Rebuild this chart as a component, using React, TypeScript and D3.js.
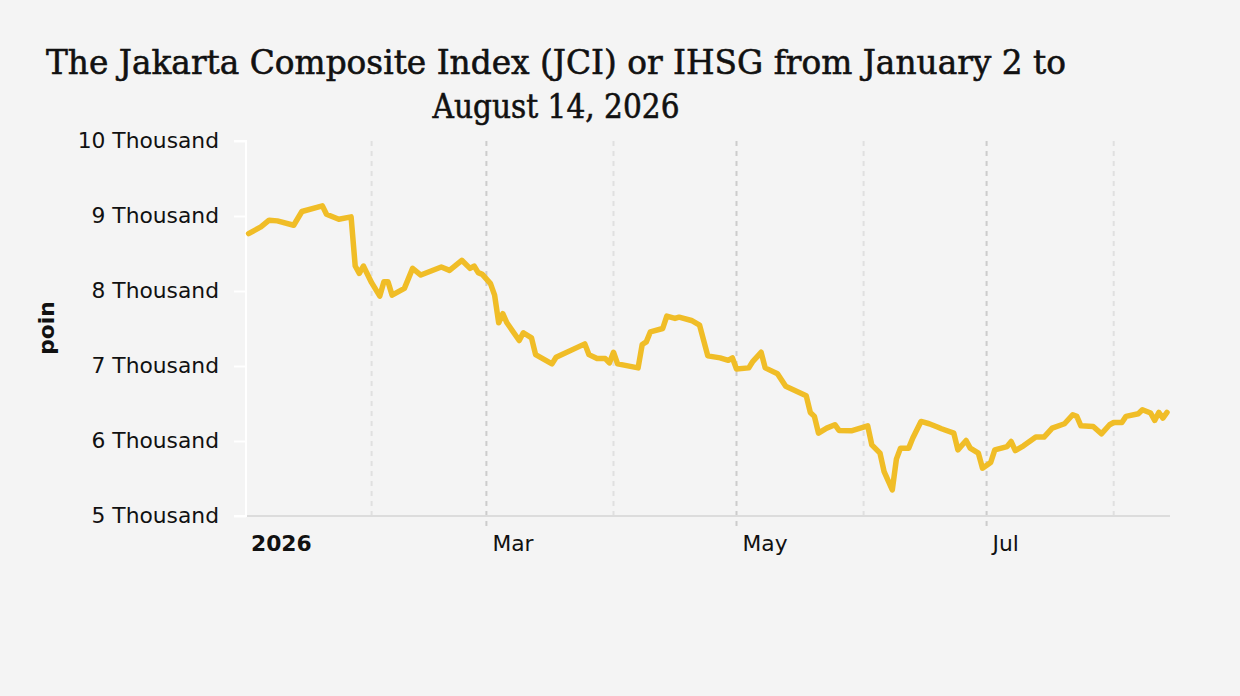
import { useEffect, useRef } from "react"
import * as d3 from "d3"

// trading dates
const dates = [
  "2026-01-02", "2026-01-05", "2026-01-07", "2026-01-09", "2026-01-13", "2026-01-15",
  "2026-01-20", "2026-01-21", "2026-01-24", "2026-01-27", "2026-01-28", "2026-01-29",
  "2026-01-30", "2026-02-01", "2026-02-03", "2026-02-04", "2026-02-05", "2026-02-06",
  "2026-02-09", "2026-02-11", "2026-02-13", "2026-02-18", "2026-02-20", "2026-02-23",
  "2026-02-25", "2026-02-26", "2026-02-27", "2026-02-28", "2026-03-02", "2026-03-03",
  "2026-03-04", "2026-03-05", "2026-03-06", "2026-03-09", "2026-03-10", "2026-03-12",
  "2026-03-13", "2026-03-17", "2026-03-18", "2026-03-25", "2026-03-26", "2026-03-28",
  "2026-03-30", "2026-03-31", "2026-04-01", "2026-04-02", "2026-04-07", "2026-04-08",
  "2026-04-09", "2026-04-10", "2026-04-13", "2026-04-14", "2026-04-16", "2026-04-17",
  "2026-04-20", "2026-04-22", "2026-04-24", "2026-04-27", "2026-04-29", "2026-04-30",
  "2026-05-01", "2026-05-04", "2026-05-05", "2026-05-07", "2026-05-08", "2026-05-11",
  "2026-05-13", "2026-05-18", "2026-05-19", "2026-05-20", "2026-05-21", "2026-05-23",
  "2026-05-25", "2026-05-26", "2026-05-29", "2026-06-02", "2026-06-03", "2026-06-05",
  "2026-06-06", "2026-06-08", "2026-06-09", "2026-06-10", "2026-06-12", "2026-06-13",
  "2026-06-15", "2026-06-17", "2026-06-19", "2026-06-20", "2026-06-23", "2026-06-24",
  "2026-06-26", "2026-06-27", "2026-06-29", "2026-06-30", "2026-07-02", "2026-07-03",
  "2026-07-06", "2026-07-07", "2026-07-08", "2026-07-10", "2026-07-13", "2026-07-15",
  "2026-07-17", "2026-07-20", "2026-07-22", "2026-07-23", "2026-07-24", "2026-07-27",
  "2026-07-29", "2026-07-31", "2026-08-01", "2026-08-03", "2026-08-04", "2026-08-07",
  "2026-08-08", "2026-08-10", "2026-08-11", "2026-08-12", "2026-08-13", "2026-08-14",
]

// index level (points)
const values = [
  8766, 8854, 8944, 8935, 8877, 9060,
  9135, 9024, 8957, 8988, 8333, 8235,
  8333, 8111, 7932, 8124, 8124, 7945,
  8035, 8302, 8213, 8320, 8275, 8409,
  8302, 8333, 8245, 8222, 8098, 7945,
  7576, 7697, 7576, 7340, 7443, 7376,
  7152, 7028, 7116, 7295, 7152, 7099,
  7099, 7041, 7183, 7028, 6975, 7286,
  7322, 7456, 7500, 7665, 7634, 7651,
  7607, 7544, 7135, 7108, 7076, 7108,
  6961, 6975, 7063, 7183, 6975, 6898,
  6729, 6604, 6381, 6328, 6105, 6172,
  6217, 6141, 6136, 6203, 5949, 5838,
  5592, 5348, 5758, 5905, 5905, 6039,
  6261, 6230, 6186, 6163, 6105, 5882,
  6007, 5905, 5838, 5638, 5713, 5882,
  5926, 5993, 5873, 5936, 6052, 6052,
  6172, 6230, 6350, 6328, 6203, 6194,
  6096, 6217, 6247, 6247, 6328, 6364,
  6417, 6373, 6274, 6381, 6306, 6381,
]

const yTicks = [5000, 6000, 7000, 8000, 9000, 10000]
const majorTicks = ["2026-01-01", "2026-03-01", "2026-05-01", "2026-07-01"]
const minorTicks = ["2026-02-01", "2026-04-01", "2026-06-01", "2026-08-01"]
const majorLabels = ["2026", "Mar", "May", "Jul"]

const titleLines = [
  "The Jakarta Composite Index (JCI) or IHSG from January 2 to",
  "August 14, 2026",
]

export default function App() {
  const svgRef = useRef<SVGSVGElement>(null)
  const width = 1240
  const height = 696

  useEffect(() => {
    if (!svgRef.current) return
    document.body.style.margin = "0"
    document.body.style.background = "#f4f4f4"

    const svg = d3.select(svgRef.current)
    svg.selectAll("*").remove()

    const parse = d3.timeParse("%Y-%m-%d")
    const data = dates.map((d, i) => ({ date: parse(d) as Date, value: values[i] }))

    const left = 246
    const right = 1168
    const top = 141
    const bottom = 516
    const sans = "'DejaVu Sans', Verdana, sans-serif"

    const x = d3
      .scaleTime()
      .domain([parse("2026-01-01") as Date, parse("2026-08-14") as Date])
      .range([244.5, 1167])
    const y = d3.scaleLinear().domain([5000, 10000]).range([bottom, top])

    svg.append("rect").attr("width", width).attr("height", height).attr("fill", "#f4f4f4")

    // title
    svg
      .append("g")
      .selectAll("text")
      .data(titleLines)
      .enter()
      .append("text")
      .attr("x", 556)
      .attr("y", (_, i) => 74 + i * 44)
      .attr("text-anchor", "middle")
      .attr("font-family", "'DejaVu Serif', serif")
      .attr("font-size", 34)
      .attr("fill", "#111")
      .attr("stroke", "#111")
      .attr("stroke-width", 0.6)
      .attr("textLength", (_, i) => (i === 0 ? 1020 : 247))
      .attr("lengthAdjust", "spacingAndGlyphs")
      .text((d) => d)

    // minor gridlines
    svg
      .append("g")
      .selectAll("line")
      .data(minorTicks)
      .enter()
      .append("line")
      .attr("x1", (d) => x(parse(d) as Date))
      .attr("x2", (d) => x(parse(d) as Date))
      .attr("y1", top)
      .attr("y2", bottom)
      .attr("stroke", "#e0e0e0")
      .attr("stroke-width", 2)
      .attr("stroke-dasharray", "5,5")

    // major gridlines (extend as ticks below the axis)
    svg
      .append("g")
      .selectAll("line")
      .data(majorTicks.slice(1))
      .enter()
      .append("line")
      .attr("x1", (d) => x(parse(d) as Date))
      .attr("x2", (d) => x(parse(d) as Date))
      .attr("y1", top)
      .attr("y2", bottom + 10)
      .attr("stroke", "#cccccc")
      .attr("stroke-width", 2)
      .attr("stroke-dasharray", "5,5")

    // bottom axis line
    svg
      .append("line")
      .attr("x1", left)
      .attr("x2", right + 2)
      .attr("y1", bottom)
      .attr("y2", bottom)
      .attr("stroke", "#dcdcdc")
      .attr("stroke-width", 2)

    // y axis
    const yAxis = svg
      .append("g")
      .attr("transform", `translate(${left},0)`)
      .call(
        d3
          .axisLeft(y)
          .tickValues(yTicks)
          .tickSize(12)
          .tickPadding(15)
          .tickFormat((d) => `${+d / 1000} Thousand`),
      )
    yAxis.select(".domain").attr("stroke", "#ffffff").attr("stroke-width", 2).attr("d", `M-12,${top}H0V${bottom}H-12`)
    yAxis.selectAll(".tick line").attr("stroke", "#ffffff").attr("stroke-width", 2)
    yAxis
      .selectAll(".tick text")
      .attr("fill", "#111")
      .attr("font-family", sans)
      .attr("font-size", 21.8)

    // x labels
    svg
      .append("g")
      .selectAll("text")
      .data(majorTicks)
      .enter()
      .append("text")
      .attr("x", (d, i) => (i === 0 ? 251 : x(parse(d) as Date) + 6))
      .attr("y", 551)
      .attr("font-family", sans)
      .attr("font-size", 21.8)
      .attr("font-weight", (_, i) => (i === 0 ? "bold" : "normal"))
      .attr("fill", "#111")
      .text((_, i) => majorLabels[i])

    // y title
    svg
      .append("text")
      .attr("transform", `translate(54,328) rotate(-90)`)
      .attr("text-anchor", "middle")
      .attr("font-family", sans)
      .attr("font-size", 21.8)
      .attr("font-weight", "bold")
      .attr("fill", "#111")
      .text("poin")

    const line = d3
      .line<{ date: Date; value: number }>()
      .x((d) => x(d.date))
      .y((d) => y(d.value))

    svg
      .append("path")
      .datum(data)
      .attr("fill", "none")
      .attr("stroke", "#f0bd27")
      .attr("stroke-width", 5.5)
      .attr("stroke-linejoin", "round")
      .attr("stroke-linecap", "round")
      .attr("d", line)
  }, [])

  return (
    <svg
      ref={svgRef}
      width={width}
      height={height}
      style={{ position: "absolute", left: 0, top: 0, display: "block" }}
    />
  )
}
